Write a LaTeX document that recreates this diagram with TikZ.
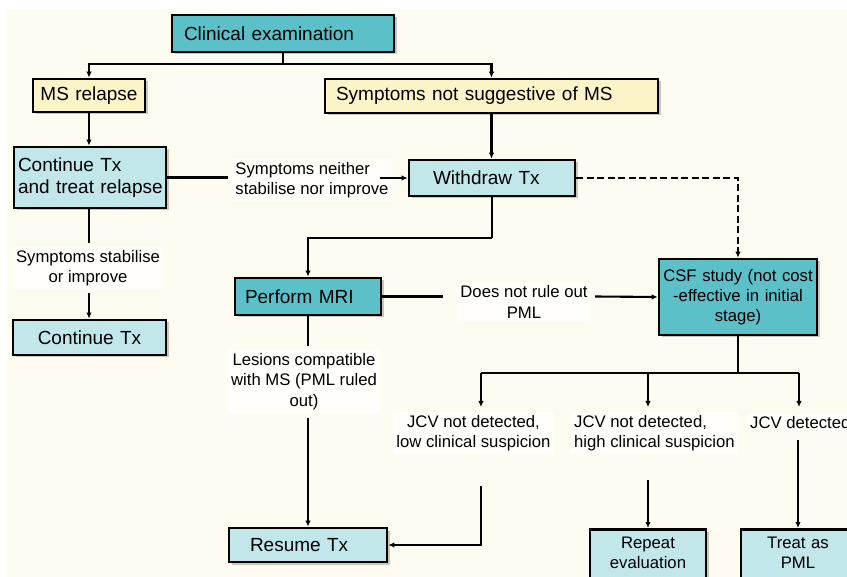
\documentclass[tikz,border=0pt]{standalone}
\usepackage{fontspec}
\setmainfont{Liberation Sans}
\usetikzlibrary{arrows.meta,shadows}
\definecolor{tealbox}{HTML}{5CC0C9}
\definecolor{lightbox}{HTML}{C2E7EB}
\definecolor{yellowbox}{HTML}{FCF3C6}
\definecolor{creambg}{HTML}{FEFCF0}
\begin{document}
\begin{tikzpicture}[x=1pt,y=-1pt,
  box/.style={draw=black, line width=2.7pt, rectangle, inner ysep=0pt,
    font=\fontsize{19}{22}\selectfont,
    drop shadow={shadow xshift=2.5pt, shadow yshift=-2.5pt, opacity=0.3, fill=black!70}},
  smallbox/.style={box, font=\fontsize{16.7}{20}\selectfont},
  tealfill/.style={fill=tealbox},
  bluefill/.style={fill=lightbox},
  yellowfill/.style={fill=yellowbox},
  lbl/.style={fill=creambg!35!white, inner sep=3pt, font=\fontsize{16.7}{20.5}\selectfont},
  conn/.style={line width=2.1pt, draw=black},
  arr/.style={conn, -{Latex[length=6pt,width=5.5pt]}},
  dashconn/.style={arr, dash pattern=on 7pt off 3.5pt}]
\useasboundingbox (0,0) rectangle (847,577);
\clip (0,0) rectangle (847,577);
\fill[white] (0,0) rectangle (847,577);
\fill[creambg] (7,9) rectangle (847,577);

% boxes
\node[box, tealfill, minimum height=37pt, text width=198pt, inner xsep=12pt, align=left] (CE) at (283,33.5) {Clinical examination};
\node[box, yellowfill, minimum height=33pt, text width=102pt, inner xsep=5pt, align=center] (MS) at (89,95.5) {MS relapse};
\node[box, yellowfill, minimum height=34pt, text width=311pt, inner xsep=11pt, align=left] (SYM) at (491.5,96) {Symptoms not suggestive of MS};
\node[box, bluefill, minimum height=61pt, text width=144pt, inner xsep=4pt, align=left] (CT) at (90,177.5) {Continue Tx\\\mbox{and treat relapse}};
\node[box, bluefill, minimum height=36pt, text width=118pt, inner xsep=24pt, align=left] (WD) at (492,178) {Withdraw Tx};
\node[smallbox, tealfill, minimum height=76pt, text width=152pt, inner xsep=3pt, align=center] (CSF) at (738,297) {CSF study (not cost\\-effective in initial\\stage)};
\node[box, tealfill, minimum height=37pt, text width=126pt, inner xsep=10pt, align=left] (MRI) at (308,296.5) {Perform MRI};
\node[box, bluefill, minimum height=35pt, text width=143pt, inner xsep=5pt, align=center] (CTX) at (89.5,337.5) {Continue Tx};
\node[box, bluefill, minimum height=34pt, text width=116pt, inner xsep=21pt, align=left] (RES) at (308,545) {Resume Tx};
\node[smallbox, bluefill, anchor=north, text width=110pt, inner xsep=3pt, inner ysep=6.5pt, text height=12.5pt, text depth=50pt, align=center] (REP) at (648,528) {Repeat\\evaluation};
\node[smallbox, bluefill, anchor=north, text width=108pt, inner xsep=3pt, inner ysep=6.5pt, text height=12.5pt, text depth=50pt, align=center] (TR) at (798,528) {Treat as\\PML};

% labels
\node[lbl, align=left] (L1) at (312,180) {Symptoms neither\\stabilise nor improve};
\node[lbl, align=center] (L2) at (88,268) {Symptoms stabilise\\or improve};
\node[lbl, align=center] (L3) at (524,302) {Does not rule out\\PML};
\node[lbl, align=center] (L4) at (304,381.5) {Lesions compatible\\with MS (PML ruled\\out)};
\node[lbl, align=center] (L5) at (473.5,433) {JCV not detected,\\low clinical suspicion};
\node[lbl, align=left, anchor=west] (L6) at (571,433) {JCV not detected,\\high clinical suspicion};
\node[lbl, align=left, anchor=west] (L7) at (747,423) {JCV detected};

% connector coordinates
\coordinate (b1) at (283,64);
\coordinate (l1a) at (228,177.5);
\coordinate (l1b) at (380,178);
\coordinate (wm) at (492,238);
\coordinate (l2a) at (89,243);
\coordinate (l2b) at (89,293);
\coordinate (l3a) at (443,296.5);
\coordinate (l3b) at (595,296.5);
\coordinate (l4a) at (308,346);
\coordinate (l4b) at (308,418);
\coordinate (b2) at (738,373);
\coordinate (j1) at (481,407);
\coordinate (j2) at (648,407);
\coordinate (j3) at (799,407);
\coordinate (l5b) at (481,486);
\coordinate (l6b) at (648,480);
\coordinate (l7b) at (798,440);

% connectors
\draw[conn] (CE.south) -- (b1);
\draw[arr] (b1) -| (MS.north);
\draw[arr] (b1) -| (SYM.north);
\draw[arr] (MS.south) -- (MS.south |- CT.north);
\draw[arr] (SYM.south) -- (SYM.south |- WD.north);
\draw[conn] (CT.east) -- (l1a);
\draw[arr] (l1b) -- (WD.west);
\draw[dashconn] (WD.east) -| (CSF.north);
\draw[conn] (WD.south) -- (wm);
\draw[arr] (wm) -| (MRI.north);
\draw[conn] (CT.south -| l2a) -- (l2a);
\draw[arr] (l2b) -- (l2b |- CTX.north);
\draw[conn] (MRI.east) -- (l3a);
\draw[arr] (l3b) -- (CSF.west);
\draw[conn] (MRI.south) -- (l4a);
\draw[arr] (l4b) -- (RES.north);
\draw[conn] (CSF.south) -- (b2);
\draw[conn] (j1 |- b2) -- (j3 |- b2);
\draw[arr] (j1 |- b2) -- (j1);
\draw[arr] (j2 |- b2) -- (j2);
\draw[arr] (j3 |- b2) -- (j3);
\draw[arr] (l5b) |- (RES.east);
\draw[arr] (l6b) -- (REP.north);
\draw[arr] (l7b) -- (TR.north);
\end{tikzpicture}
\end{document}
